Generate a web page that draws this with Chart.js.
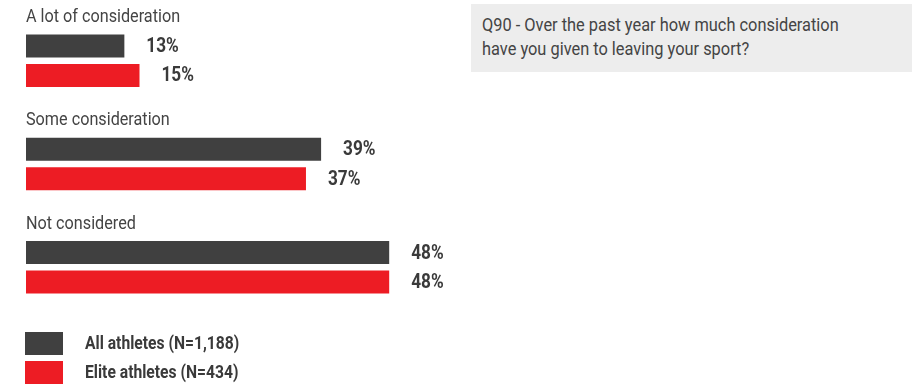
<!DOCTYPE html>
<html>
<head>
<meta charset="utf-8">
<title>Consideration of leaving sport</title>
<script src="https://cdn.jsdelivr.net/npm/chart.js@4.4.1/dist/chart.umd.min.js"></script>
<style>
  html, body { margin: 0; padding: 0; background: #fff; }
  #wrap { position: relative; width: 912px; height: 387px; overflow: hidden; }
  #note {
    position: absolute; left: 471px; top: 4px; width: 441px; height: 68px;
    box-sizing: border-box; padding: 9px 0 0 11px;
    background: #ededed; color: #444;
    font-family: Roboto, sans-serif; font-size: 18px; line-height: 24px;
  }
  #note span { display: block; white-space: nowrap; transform: scaleX(0.91); transform-origin: 0 0; }
</style>
</head>
<body>
<div id="wrap">
  <canvas id="chart" width="912" height="387"></canvas>
  <div id="note"><span>Q90 - Over the past year how much consideration<br>have you given to leaving your sport?</span></div>
</div>
<script>
// Survey answers and the two respondent groups
const categories = ['A lot of consideration', 'Some consideration', 'Not considered'];
const allAthletes = [13, 39, 48];
const eliteAthletes = [15, 37, 48];
const seriesNames = ['All athletes (N=1,188)', 'Elite athletes (N=434)'];
const seriesColors = ['#404040', '#ed1c24'];

const FONT = 'Roboto, sans-serif';
const TEXT = '#3a3a3a';

// no condensed face installed, so squeeze the glyphs horizontally
function narrowText(ctx, text, x, y, squeeze) {
  ctx.save();
  ctx.translate(x, y);
  ctx.scale(squeeze, 1);
  ctx.fillText(text, 0, 0);
  ctx.restore();
}

// category titles above each pair of bars + % labels past the bar ends
const barLabels = {
  id: 'barLabels',
  afterDatasetsDraw(chart) {
    const { ctx, chartArea } = chart;
    ctx.save();
    ctx.textBaseline = 'middle';
    ctx.textAlign = 'left';

    const first = chart.getDatasetMeta(0);
    ctx.font = `18px ${FONT}`;
    ctx.fillStyle = '#444';
    first.data.forEach((bar, i) => {
      narrowText(ctx, categories[i], chartArea.left, bar.y - bar.height / 2 - 17, 0.9);
    });

    ctx.font = `bold 20px ${FONT}`;
    ctx.fillStyle = TEXT;
    chart.data.datasets.forEach((ds, d) => {
      chart.getDatasetMeta(d).data.forEach((bar, i) => {
        narrowText(ctx, ds.data[i] + '%', bar.x + 22, bar.y + 1, 0.86);
      });
    });
    ctx.restore();
  }
};

// stacked legend in the lower left corner
const sideLegend = {
  id: 'sideLegend',
  afterDraw(chart) {
    const { ctx } = chart;
    ctx.save();
    ctx.textBaseline = 'middle';
    ctx.font = `bold 18px ${FONT}`;
    chart.data.datasets.forEach((ds, d) => {
      const top = 332 + d * 29;
      ctx.fillStyle = ds.backgroundColor;
      ctx.fillRect(25, top, 38, 23);
      ctx.fillStyle = TEXT;
      narrowText(ctx, ds.label, 85, top + 12, 0.87);
    });
    ctx.restore();
  }
};

new Chart(document.getElementById('chart'), {
  type: 'bar',
  data: {
    labels: categories,
    datasets: [
      { label: seriesNames[0], data: allAthletes, backgroundColor: seriesColors[0] },
      { label: seriesNames[1], data: eliteAthletes, backgroundColor: seriesColors[1] }
    ]
  },
  options: {
    indexAxis: 'y',
    responsive: false,
    devicePixelRatio: 1,
    animation: false,
    categoryPercentage: 0.57,
    barPercentage: 0.78,
    layout: { padding: { left: 26, right: 432, top: 9, bottom: 68 } },
    plugins: {
      legend: { display: false },
      tooltip: { enabled: false }
    },
    scales: {
      x: { display: false, min: 0, max: 60 },
      y: { display: false }
    }
  },
  plugins: [barLabels, sideLegend]
});
</script>
</body>
</html>
